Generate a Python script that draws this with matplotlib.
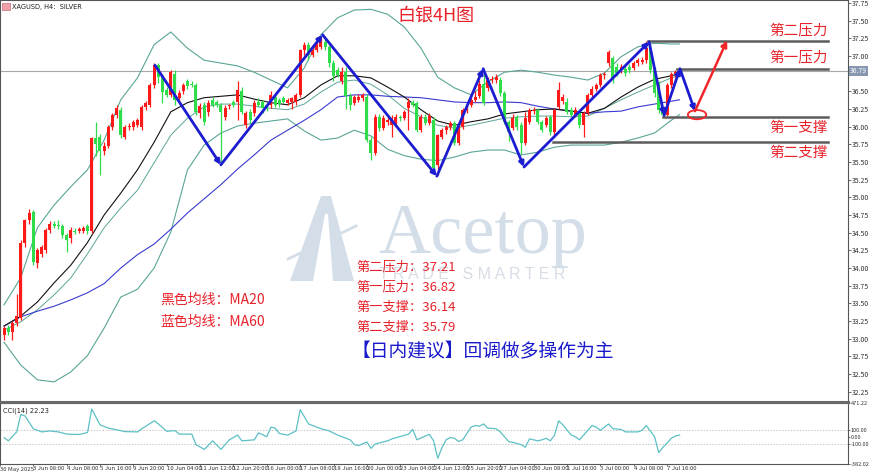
import matplotlib
matplotlib.use("Agg")
import matplotlib.pyplot as plt
from matplotlib.patches import Ellipse, Polygon
from matplotlib.lines import Line2D

plt.rcParams['font.family'] = ['Noto Sans CJK SC', 'DejaVu Sans']

# ---------------- data ----------------
opens = [33.05, 33.15, 33.10, 33.22, 33.30, 34.35, 34.68, 34.80, 34.07, 34.20,
         34.25, 34.54, 34.63, 34.61, 34.59, 34.47, 34.42, 34.52, 34.53, 34.52,
         34.59, 34.52, 35.84, 35.85, 35.65, 35.73, 36.00, 36.17, 36.24, 35.85,
         36.00, 35.99, 36.02, 36.00, 36.28, 36.30, 36.59, 36.87, 36.70, 36.52,
         36.45, 36.75, 36.40, 36.50, 36.64, 36.61, 36.59, 36.19, 36.31, 36.21,
         36.38, 36.35, 36.31, 36.14, 36.29, 36.35, 36.35, 36.50, 36.03, 36.21,
         36.19, 36.35, 36.35, 36.31, 36.31, 36.42, 36.38, 36.40, 36.33, 36.35,
         36.35, 36.45, 37.08, 37.16, 37.02, 37.09, 37.13, 37.20, 37.13, 36.90,
         36.80, 36.65, 36.78, 36.43, 36.34, 36.38, 36.40, 36.42, 35.81, 35.63,
         36.14, 35.98, 36.07, 36.03, 36.05, 36.14, 36.13, 36.26, 36.35, 36.33,
         35.95, 36.14, 36.05, 36.10, 35.46, 35.86, 35.95, 36.00, 36.05, 35.77,
         36.00, 36.24, 36.31, 36.38, 36.43, 36.61, 36.55, 36.66, 36.66, 36.66,
         36.47, 36.07, 35.98, 36.14, 36.02, 35.77, 36.07, 36.22, 36.24, 36.07,
         36.03, 36.14, 35.92, 36.28, 36.36, 36.35, 36.24, 36.17, 36.19, 36.03,
         36.19, 36.45, 36.54, 36.59, 36.73, 36.90, 36.97, 36.85, 36.80, 36.82,
         36.85, 36.83, 36.90, 36.92, 36.94, 37.11, 36.80, 36.61, 36.24, 36.17,
         36.59, 36.75, 36.78]
highs = [33.18, 33.20, 33.25, 33.64, 34.40, 34.70, 34.84, 34.82, 34.28, 34.33,
         34.56, 34.66, 34.66, 34.68, 34.62, 34.50, 34.58, 34.56, 34.58, 34.60,
         34.62, 35.86, 36.07, 35.90, 35.78, 36.03, 36.20, 36.30, 36.28, 36.03,
         36.05, 36.10, 36.12, 36.30, 36.36, 36.62, 36.90, 36.90, 36.74, 36.56,
         36.80, 36.80, 36.52, 36.62, 36.68, 36.64, 36.62, 36.33, 36.35, 36.38,
         36.42, 36.38, 36.34, 36.30, 36.32, 36.38, 36.64, 36.56, 36.22, 36.25,
         36.38, 36.40, 36.38, 36.34, 36.50, 36.46, 36.41, 36.43, 36.40, 36.42,
         36.48, 37.10, 37.20, 37.20, 37.12, 37.22, 37.27, 37.24, 37.16, 36.95,
         36.84, 36.85, 36.84, 36.47, 36.45, 36.46, 36.48, 36.46, 35.86, 36.18,
         36.18, 36.16, 36.14, 36.16, 36.18, 36.17, 36.24, 36.40, 36.38, 36.36,
         36.18, 36.18, 36.20, 36.14, 35.90, 35.98, 36.03, 36.08, 36.08, 36.02,
         36.27, 36.31, 36.42, 36.50, 36.66, 36.80, 36.70, 36.72, 36.74, 36.70,
         36.50, 36.10, 36.18, 36.16, 36.06, 36.21, 36.27, 36.28, 36.27, 36.10,
         36.15, 36.17, 36.27, 36.63, 36.46, 36.40, 36.28, 36.28, 36.22, 36.22,
         36.48, 36.57, 36.62, 36.76, 36.78, 37.08, 37.00, 36.90, 36.88, 36.86,
         36.88, 36.93, 36.97, 36.98, 37.21, 37.15, 36.84, 36.65, 36.28, 36.62,
         36.78, 36.80, 36.83]
lows = [32.98, 33.05, 32.98, 33.18, 33.26, 34.30, 34.62, 34.05, 34.00, 34.15,
        34.22, 34.50, 34.56, 34.55, 34.42, 34.23, 34.36, 34.48, 34.49, 34.50,
        34.48, 34.50, 35.58, 35.32, 35.60, 35.70, 35.95, 36.12, 35.84, 35.82,
        35.96, 35.96, 36.00, 35.95, 36.24, 36.28, 36.55, 36.62, 36.33, 36.42,
        36.42, 36.30, 36.36, 36.46, 36.54, 36.56, 36.17, 36.12, 36.02, 36.15,
        36.28, 36.28, 35.48, 36.10, 36.25, 36.28, 36.10, 36.18, 35.98, 36.05,
        36.15, 36.28, 36.20, 36.22, 36.26, 36.28, 36.28, 36.33, 36.30, 36.25,
        36.30, 36.42, 37.02, 36.95, 36.98, 37.05, 37.10, 37.08, 36.85, 36.65,
        36.70, 36.60, 36.25, 36.24, 36.30, 36.35, 36.36, 35.78, 35.53, 35.60,
        35.94, 35.95, 36.02, 35.86, 36.00, 36.08, 36.10, 35.95, 36.28, 35.92,
        35.92, 36.02, 36.02, 35.33, 35.31, 35.82, 35.90, 35.96, 35.74, 35.74,
        35.97, 36.20, 36.28, 36.35, 36.40, 36.30, 36.50, 36.62, 36.62, 36.44,
        36.04, 35.80, 35.95, 35.95, 35.62, 35.74, 36.04, 36.18, 36.04, 35.92,
        36.00, 35.88, 35.88, 36.25, 36.32, 36.18, 36.14, 36.14, 35.98, 35.86,
        36.16, 36.42, 36.50, 36.56, 36.68, 36.86, 36.62, 36.72, 36.76, 36.72,
        36.76, 36.80, 36.86, 36.88, 36.90, 36.76, 36.42, 36.20, 36.14, 36.15,
        36.55, 36.70, 36.74]
closes = [33.15, 33.10, 33.22, 33.32, 34.35, 34.68, 34.78, 34.08, 34.25, 34.30,
          34.54, 34.62, 34.60, 34.59, 34.47, 34.40, 34.54, 34.51, 34.55, 34.57,
          34.52, 35.84, 35.75, 35.65, 35.73, 36.00, 36.17, 36.26, 35.88, 36.00,
          36.01, 36.06, 36.09, 36.28, 36.33, 36.59, 36.87, 36.70, 36.49, 36.45,
          36.77, 36.38, 36.47, 36.59, 36.57, 36.59, 36.21, 36.29, 36.07, 36.34,
          36.31, 36.31, 36.21, 36.26, 36.30, 36.31, 36.52, 36.21, 36.19, 36.10,
          36.33, 36.31, 36.26, 36.26, 36.45, 36.31, 36.32, 36.35, 36.38, 36.40,
          36.45, 37.08, 37.16, 37.02, 37.09, 37.18, 37.20, 37.13, 36.90, 36.71,
          36.73, 36.78, 36.43, 36.31, 36.42, 36.42, 36.45, 35.81, 35.63, 36.14,
          35.98, 36.12, 36.10, 36.12, 36.14, 36.12, 36.21, 36.35, 36.31, 35.95,
          36.14, 36.05, 36.15, 35.42, 35.88, 35.95, 36.00, 36.05, 35.77, 35.98,
          36.24, 36.28, 36.38, 36.42, 36.61, 36.33, 36.66, 36.68, 36.70, 36.47,
          36.07, 35.93, 36.12, 36.00, 35.77, 36.12, 36.24, 36.24, 36.07, 35.95,
          36.12, 35.92, 36.24, 36.52, 36.42, 36.21, 36.17, 36.24, 36.03, 36.19,
          36.45, 36.54, 36.59, 36.73, 36.75, 37.06, 36.66, 36.76, 36.85, 36.76,
          36.80, 36.90, 36.94, 36.94, 37.11, 36.80, 36.47, 36.24, 36.17, 36.59,
          36.75, 36.78, 36.79]

# indicator lines, read every 4 bars
ind_bars = list(range(0, 161, 4)) + [162]
bb_upper = [33.48, 33.86, 34.57, 34.89, 35.15, 35.39, 35.81, 36.38, 36.69, 37.16,
            37.34, 37.11, 36.94, 36.90, 36.86, 36.77, 36.66, 36.55, 36.83, 37.30,
            37.54, 37.65, 37.66, 37.59, 37.41, 37.11, 36.70, 36.55, 36.45, 36.63,
            36.77, 36.80, 36.77, 36.73, 36.70, 36.66, 36.76, 36.99, 37.13, 37.18,
            37.17, 37.17]
ma20 = [33.18, 33.32, 33.52, 33.79, 34.04, 34.36, 34.75, 35.06, 35.39, 35.78,
        36.21, 36.34, 36.41, 36.43, 36.45, 36.39, 36.34, 36.31, 36.41, 36.59,
        36.72, 36.72, 36.69, 36.56, 36.42, 36.24, 36.08, 36.02, 36.07, 36.11,
        36.18, 36.21, 36.24, 36.25, 36.22, 36.19, 36.26, 36.42, 36.56, 36.67,
        36.72, 36.75]
ma60 = [33.18, 33.31, 33.39, 33.46, 33.55, 33.65, 33.78, 34.00, 34.19, 34.34,
        34.55, 34.78, 34.98, 35.18, 35.40, 35.60, 35.81, 35.95, 36.09, 36.24,
        36.42, 36.45, 36.45, 36.43, 36.42, 36.41, 36.38, 36.35, 36.34, 36.34,
        36.35, 36.34, 36.29, 36.25, 36.22, 36.19, 36.21, 36.22, 36.28, 36.32,
        36.36, 36.38]
bb_lower = [32.95, 32.63, 32.42, 32.39, 32.53, 32.76, 33.15, 33.59, 33.70, 34.00,
            34.51, 35.39, 35.74, 35.91, 36.01, 36.05, 36.08, 36.11, 35.94, 35.81,
            35.84, 35.95, 35.87, 35.68, 35.59, 35.54, 35.52, 35.57, 35.64, 35.67,
            35.67, 35.60, 35.64, 35.71, 35.74, 35.74, 35.74, 35.78, 35.84, 35.91,
            36.09, 36.17]
inner_band = [33.12, 33.24, 33.41, 33.62, 33.86, 34.20, 34.57, 34.85, 35.10, 35.49,
              35.88, 36.12, 36.28, 36.32, 36.32, 36.29, 36.26, 36.24, 36.32, 36.49,
              36.63, 36.66, 36.60, 36.45, 36.26, 36.14, 36.02, 35.98, 36.02, 36.07,
              36.12, 36.14, 36.15, 36.15, 36.14, 36.15, 36.26, 36.38, 36.49, 36.59,
              36.69, 36.72]

cci_bars = [0, 1, 3, 4, 5, 6, 7, 9, 11, 13, 15, 18, 20, 21, 23, 25, 29, 32, 33, 36,
            37, 39, 41, 42, 45, 46, 48, 50, 52, 54, 56, 57, 60, 61, 63, 64, 65, 66, 68, 70,
            71, 73, 76, 78, 80, 83, 84, 85, 87, 88, 89, 92, 93, 97, 98, 99, 101, 102, 103, 104,
            105, 106, 107, 108, 109, 110, 111, 112, 113, 114, 115, 116, 118, 119, 121, 122, 124, 125, 126, 128,
            129, 130, 131, 132, 133, 134, 136, 137, 138, 140, 141, 142, 143, 145, 146, 148, 149, 152, 153, 154,
            156, 157, 158, 159, 160, 161, 162]
cci_vals = [-13, -58, 67, 311, 289, 200, 111, 67, 80, 67, 36, 31, 58, 387, 165, 120, 71, 67, 111, 222,
            178, 76, 85, 36, 36, -111, -178, -58, -178, -44, 22, -58, -44, 53, 0, 134, 120, 45, 22, 80,
            378, 178, 111, 80, 22, -44, -111, -124, -75, -164, -102, -58, -31, 36, 102, -44, 9, 31, -58, -302,
            -155, -44, -13, -22, -67, -44, 45, 134, 156, 147, 178, 120, 111, 67, -67, -80, -111, -147, -31, -58,
            -44, -22, -58, 22, 222, 165, 22, 0, -44, 89, 156, 134, 89, 178, 111, 102, 67, 67, 89, 156,
            0, -222, -150, -89, -22, 9, 22.23]

date_labels = ["30 May 2025", "3 Jun 08:00", "4 Jun 08:00", "5 Jun 16:00", "9 Jun 20:00",
               "10 Jun 04:00", "11 Jun 12:00", "12 Jun 20:00", "16 Jun 00:00", "17 Jun 08:00",
               "18 Jun 16:00", "20 Jun 00:00", "23 Jun 04:00", "24 Jun 12:00", "25 Jun 20:00",
               "27 Jun 04:00", "30 Jun 08:00", "1 Jul 16:00", "3 Jul 00:00", "4 Jul 08:00",
               "7 Jul 16:00"]
date_label_bars = [-1] + list(range(7, 160, 8))

price_ticks = [37.75, 37.50, 37.25, 37.00, 36.75, 36.50, 36.25, 36.00, 35.75, 35.50, 35.25,
               35.00, 34.75, 34.50, 34.25, 34.00, 33.75, 33.50, 33.25, 33.00, 32.75, 32.50, 32.25]
cci_ticks = [471.22, 100.0, 0.0, -100.0, -382.02]
last_price = 36.79
cci_last = 22.23

levels = [37.21, 36.82, 36.14, 35.79]
level_names = ["第二压力", "第一压力", "第一支撑", "第二支撑"]
level_start_bars = [154.4, 161.4, 158.0, 131.7]

zig_bars = [36.2, 52.0, 76.4, 103.8, 114.9, 124.7, 154.7, 158.3, 162.1, 165.7]
zig_prices = [36.87, 35.46, 37.30, 35.30, 36.82, 35.43, 37.20, 36.16, 36.82, 36.22]
target_bar, target_price = 173.4, 37.22

# ---------------- layout ----------------
W, H = 870, 474
fig = plt.figure(figsize=(W / 100, H / 100), dpi=100)
fig.patch.set_facecolor('white')

def fx(p):
    return p / W

def fy(p):
    return 1 - p / H

ax = fig.add_axes([0, fy(401), fx(848), 401 / H])
cax = fig.add_axes([0, fy(464), fx(848), (464 - 403) / H])

XL = (-0.96, 202.4)
for a in (ax, cax):
    a.set_xlim(*XL)
    a.set_facecolor('white')
    for s in a.spines.values():
        s.set_color('#555555')
        s.set_linewidth(0.8)
ax.set_ylim(32.12, 37.792)
cax.set_ylim(-382.02, 471.22)

UP = '#ff1a1a'
DN = '#2fdc4a'
BAND = '#5aa596'

# watermark
WM = '#d4dee9'
fig.text(fx(378), fy(253), 'Acetop', fontsize=52, family='Liberation Serif',
         color=WM, va='baseline', zorder=0)
fig.text(fx(379), fy(279), 'T R A D E   S M A R T E R', fontsize=11.5,
         family='Liberation Sans', color='#d6dde5', va='baseline', zorder=0)
fig.patches.append(Polygon([(fx(290), fy(281)), (fx(321), fy(196)), (fx(331), fy(196)),
                            (fx(354), fy(281))], closed=True, transform=fig.transFigure,
                           fc=WM, ec='none', zorder=0))
fig.patches.append(Polygon([(fx(313), fy(281)), (fx(325), fy(214)), (fx(328), fy(214)),
                            (fx(333), fy(281))], closed=True, transform=fig.transFigure,
                           fc='white', ec='none', zorder=0))
fig.lines.append(Line2D([fx(288), fx(356)], [fy(259), fy(226)], transform=fig.transFigure,
                        color=WM, lw=2.0, zorder=0))

ax.patch.set_alpha(0)
cax.patch.set_alpha(0)

# current price line
ax.axhline(last_price, color='#a8a8a8', lw=0.8, zorder=1)

# indicator lines
ax.plot(ind_bars, bb_upper, color=BAND, lw=0.8, zorder=2)
ax.plot(ind_bars, bb_lower, color=BAND, lw=0.8, zorder=2)
ax.plot(ind_bars, inner_band, color=BAND, lw=0.7, zorder=2)
ax.plot(ind_bars, ma60, color='#3a3ad0', lw=0.8, zorder=2)
ax.plot(ind_bars, ma20, color='#111111', lw=0.8, zorder=2)

# candles
xs = list(range(len(closes)))
cols = [UP if c >= o else DN for o, c in zip(opens, closes)]
ax.vlines(xs, lows, highs, colors=cols, lw=0.9, zorder=3)
bottoms = [min(o, c) for o, c in zip(opens, closes)]
heights = [max(abs(c - o), 0.012) for o, c in zip(opens, closes)]
ax.bar(xs, heights, bottom=bottoms, width=0.72, color=cols, linewidth=0, zorder=3)

# support / resistance
for lv, nm, sb in zip(levels, level_names, level_start_bars):
    ax.plot([sb, 197.6], [lv, lv], color='#5c5c5c', lw=1.8, zorder=4)
    above = '压力' in nm
    ax.annotate(nm, xy=(197.6, lv), xytext=(0, 3 if above else -3), textcoords='offset points',
                ha='right', va='bottom' if above else 'top', fontsize=10.5, color='#e8222a',
                zorder=6)

# zigzag arrows
BLUE = '#1c1cd0'
for i in range(len(zig_bars) - 1):
    ax.annotate('', xy=(zig_bars[i + 1], zig_prices[i + 1]), xytext=(zig_bars[i], zig_prices[i]),
                arrowprops=dict(arrowstyle='-|>', color=BLUE, lw=2.0, mutation_scale=7,
                                shrinkA=0, shrinkB=0), zorder=5)
ax.annotate('', xy=(target_bar, target_price), xytext=(zig_bars[-1], zig_prices[-1]),
            arrowprops=dict(arrowstyle='-|>', color='#f0262a', lw=1.8, mutation_scale=9,
                            shrinkA=0, shrinkB=0), zorder=5)
ax.add_patch(Ellipse((166.2, 36.17), width=4.4, height=0.13, fill=False, ec='#f0262a',
                     lw=1.3, zorder=5))

# price axis (36.75 label is hidden under the current-price box)
ax.yaxis.tick_right()
ax.set_yticks(price_ticks)
ax.set_yticklabels(["" if abs(t - 36.75) < 1e-9 else f"{t:.2f}" for t in price_ticks])
ax.tick_params(axis='y', labelsize=5, colors='#333333', length=2, width=0.5, pad=1)
ax.set_xticks([])
ax.spines['bottom'].set_visible(False)
ax.text(1.002, last_price, f"{last_price:.2f}", transform=ax.get_yaxis_transform(),
        fontsize=5, color='white', va='center', ha='left',
        bbox=dict(boxstyle='square,pad=0.15', fc='#8797b0', ec='none'), zorder=7)

# CCI panel
cax.axhline(100, color='#c8c8c8', lw=0.7, ls=(0, (1.5, 1.5)))
cax.axhline(-100, color='#c8c8c8', lw=0.7, ls=(0, (1.5, 1.5)))
cax.plot(cci_bars, cci_vals, color='#5cc0c4', lw=0.9)
cax.yaxis.tick_right()
cax.set_yticks(cci_ticks)
cax.set_yticklabels([f"{t:.2f}" for t in cci_ticks])
cax.tick_params(axis='y', labelsize=4.0, colors='#333333', length=1.5, width=0.5, pad=0.5)
cax.set_xticks(date_label_bars)
cax.set_xticklabels(date_labels)
cax.tick_params(axis='x', labelsize=4.3, colors='#333333', length=1.5, width=0.5, pad=0.3)
for lab in cax.get_xticklabels():
    lab.set_ha('left')
cax.text(0.003, 0.93, f"CCI(14) {cci_last:.2f}", transform=cax.transAxes, fontsize=4.8,
         color='#222222', va='top', ha='left', family='DejaVu Sans')

# separator between panels
fig.lines.append(Line2D([0, fx(848)], [fy(402), fy(402)], transform=fig.transFigure,
                        color='#6a6a6a', lw=2.2))

# header
fig.patches.append(Polygon([(fx(2), fy(3)), (fx(10), fy(3)), (fx(10), fy(10)), (fx(2), fy(10))],
                           closed=True, transform=fig.transFigure, fc='#f0a0a8', ec='#c05060',
                           lw=0.4))
fig.text(fx(12), fy(6.5), "XAGUSD, H4:  SILVER", fontsize=4.8, color='#222222', va='center',
         family='DejaVu Sans')

# titles and notes
RED = '#e8222a'
fig.text(fx(436), fy(16), "白银4H图", fontsize=13, color=RED, ha='center', va='center')
fig.text(fx(160), fy(300), "黑色均线：MA20", fontsize=10, color=RED, ha='left', va='center')
fig.text(fx(160), fy(322), "蓝色均线：MA60", fontsize=10, color=RED, ha='left', va='center')
note_y = [267, 287, 307, 327]
for nm, lv, yy in zip(level_names, levels, note_y):
    fig.text(fx(356), fy(yy), f"{nm}：{lv:.2f}", fontsize=9.5, color=RED, ha='left', va='center')
fig.text(fx(352), fy(352), "【日内建议】回调做多操作为主", fontsize=13.5, color='#1a1acc',
         ha='left', va='center')

fig.savefig('out.png', dpi=100, facecolor='white')
